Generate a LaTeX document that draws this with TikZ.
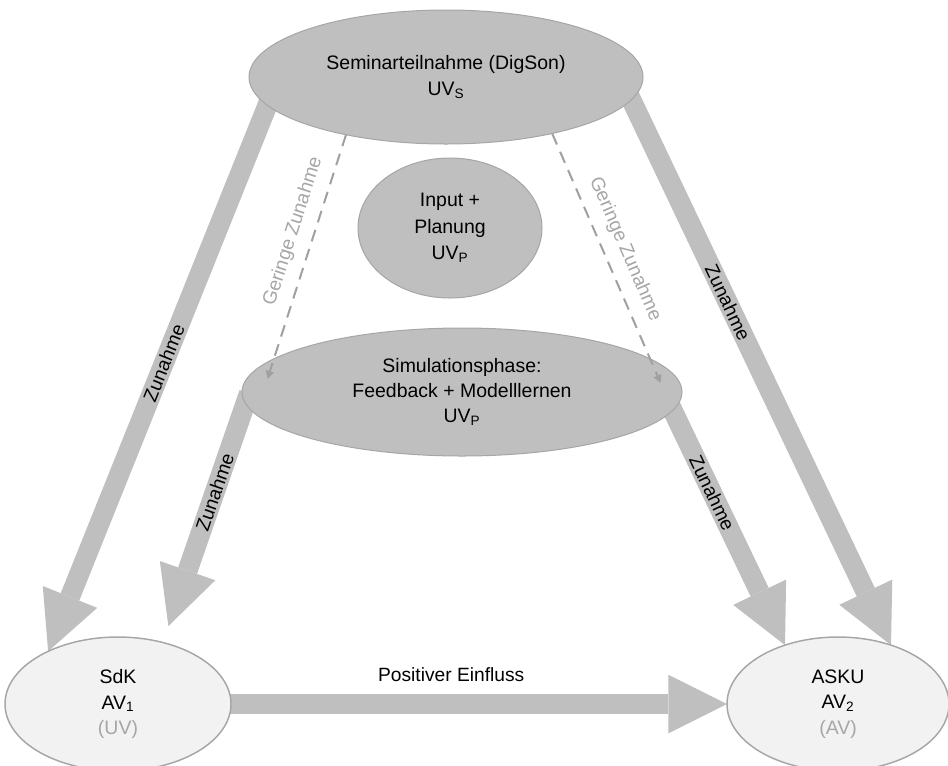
\documentclass[tikz,border=0pt]{standalone}
\usepackage{fontspec}
\setmainfont{Liberation Sans}
\usetikzlibrary{arrows.meta,shapes.geometric,backgrounds}
\definecolor{darkfill}{HTML}{BFBFBF}
\definecolor{edgegray}{HTML}{A6A6A6}
\definecolor{lightfill}{HTML}{F2F2F2}
\definecolor{dashgray}{HTML}{A0A0A0}
\definecolor{labelgray}{HTML}{A6A6A6}
\begin{document}
\begin{tikzpicture}[x=0.75pt,y=-0.75pt,
  darknode/.style={ellipse, fill=darkfill, draw=edgegray, line width=0.75pt, inner sep=0pt, outer sep=0pt, align=center, font=\fontsize{14.6}{20}\selectfont},
  lightnode/.style={ellipse, fill=lightfill, draw=edgegray, line width=1.1pt, inner sep=0pt, outer sep=0pt, align=center, font=\fontsize{14.6}{19}\selectfont},
  bigarrow/.style={draw=darkfill, line width=15pt, -{Triangle[length=44pt,width=44pt,line width=0pt]}},
  dasharrow/.style={draw=dashgray, line width=1.5pt, dash pattern=on 9pt off 6pt, -{Triangle[length=6pt,width=6pt]}},
  arrowlabel/.style={font=\fontsize{14.4}{17}\selectfont, sloped, inner sep=0pt},
]
\useasboundingbox (0,0) rectangle (948,765);
\node[darknode, minimum width=295.5pt, minimum height=100.5pt] (top) at (446,77) {Seminarteilnahme (DigSon)\\UV\textsubscript{S}};
\node[darknode, minimum width=138pt, minimum height=105pt] (plan) at (450,228) {Input +\\Planung\\UV\textsubscript{P}};
\node[darknode, font=\fontsize{14.6}{18.5}\selectfont, minimum width=330pt, minimum height=96pt] (mid) at (462,392) {Simulationsphase:\\Feedback + Modelllernen\\UV\textsubscript{P}};
\node[lightnode, minimum width=169.5pt, minimum height=100.5pt] (sdk) at (118,704) {SdK\\AV\textsubscript{1}\\\textcolor{labelgray}{(UV)}};
\node[lightnode, minimum width=166.5pt, minimum height=100.5pt] (asku) at (838,704) {ASKU\\AV\textsubscript{2}\\\textcolor{labelgray}{(AV)}};
\begin{scope}[on background layer]
\draw[bigarrow, shorten <=-8pt] (top.189) -- (sdk.143.5) node[arrowlabel, pos=0.472] {Zunahme};
\draw[bigarrow, shorten <=-8pt, shorten >=13pt] (mid.183.6) -- (sdk.54.7) node[arrowlabel, pos=0.371] {Zunahme};
\draw[bigarrow, shorten <=-8pt] (mid.-5) -- (asku.132.6) node[arrowlabel, pos=0.352] {Zunahme};
\draw[bigarrow, shorten <=-8pt] (top.-7.1) -- (asku.48.6) node[arrowlabel, pos=0.372] {Zunahme};
\draw[bigarrow, shorten <=-8pt] (sdk.east) -- (asku.west) node[pos=0.444, yshift=22pt, font=\fontsize{14.4}{17}\selectfont] {Positiver Einfluss};
\end{scope}
\draw[dasharrow, shorten >=-15.8pt] (top.210.2) -- (mid.170.5) node[arrowlabel, pos=0.46, above=8pt, text=labelgray] {Geringe Zunahme};
\draw[dasharrow, shorten >=-19.8pt] (top.-28.5) -- (mid.10.5) node[arrowlabel, pos=0.55, above=8pt, text=labelgray] {Geringe Zunahme};
\end{tikzpicture}
\end{document}
